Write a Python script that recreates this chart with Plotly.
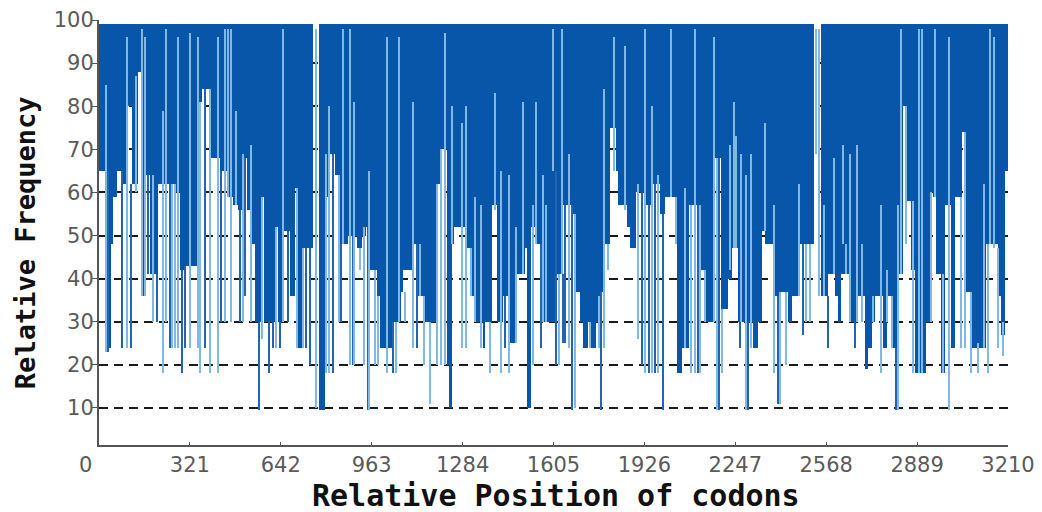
import plotly.graph_objects as go

# ---------------- data ----------------
TOTAL_CODONS = 3210
TOP_VALUE = 99

# lower edge of the solid band: segment start (codon) -> relative frequency
ENV_START = [0, 26, 42, 51, 62, 78, 86, 104, 116, 136, 148, 165, 180, 210, 270, 286, 304, 352, 363,
             392, 427, 451, 474, 492, 504, 521, 539, 551, 574, 583, 621, 633, 645, 674, 692, 704, 716, 757, 778,
             798, 810, 833, 851, 880, 910, 927, 942, 957, 980, 992, 1033, 1066, 1075, 1104, 1128, 1151, 1192,
             1204, 1228, 1236, 1245, 1253, 1298, 1310, 1333, 1355, 1363, 1387, 1404, 1428, 1451, 1469, 1504,
             1512, 1524, 1539, 1563,
             1610, 1619, 1639, 1675, 1686, 1698, 1710, 1728, 1739, 1754, 1769, 1781, 1804, 1824, 1834, 1863,
             1875, 1898, 1925, 1949, 1981, 1998,
             2040, 2057, 2084, 2122, 2145, 2175, 2198, 2222, 2234, 2257, 2308, 2328, 2340, 2352, 2387, 2410,
             2434, 2446, 2475, 2526, 2551, 2573, 2599, 2610, 2622, 2657, 2672, 2704, 2716, 2730, 2742, 2769,
             2781, 2805, 2817,
             2840, 2852, 2869, 2881, 2922, 2934, 2946, 2957, 2975, 2987, 3007, 3022, 3049, 3063, 3075, 3132,
             3175, 3187, 3199]
ENV_VALUE = [65, 24, 48, 59, 65, 24, 62, 80, 62, 88, 36, 64, 41, 62, 60, 42, 43, 81, 84,
             68, 65, 59, 57, 56, 68, 56, 48, 30, 59, 30, 52, 30, 51, 36, 61, 24, 47, 99, 9.5,
             59, 69, 64, 48, 50, 47, 50, 52, 42, 36, 24, 30, 37, 42, 48, 36, 30, 62,
             70, 20, 10, 48, 52, 47, 36, 30, 24, 30, 57, 30, 36, 25, 41, 47,
             10, 52, 48, 30,
             65, 41, 57, 55, 37, 30, 24, 30, 24, 30, 37, 48, 75, 65, 57, 52,
             47, 60, 57, 62, 55, 59,
             18, 24, 57, 42, 30, 68, 33, 40, 47, 30, 24, 30, 51, 48, 36, 37,
             30, 36, 48, 99, 36, 41, 36, 30, 41, 30, 36, 19, 24, 30, 36, 24,
             36, 24, 41,
             80, 58, 42, 18, 30, 60, 59, 41, 18, 57, 24, 59, 74, 37, 24, 48,
             36, 27, 65]

# thin light strokes: codon position, low value, high value
LIGHT_POS = [27, 98, 130, 151, 163, 192, 227, 239, 259, 268, 280, 321, 349, 357,
             394, 421, 445, 457, 468, 484, 510, 537, 578, 627, 650, 700, 721, 768,
             804, 814, 847, 862, 886, 902, 922, 937, 955, 974, 986, 1018, 1050, 1059, 1080, 1110, 1133, 1149, 1169, 1196,
             1210, 1222, 1248, 1283, 1296, 1316, 1328, 1350, 1380, 1398, 1422, 1448, 1474, 1498, 1533, 1545, 1569, 1580, 1604,
             1624, 1634, 1659, 1681, 1733, 1765, 1784, 1798, 1820, 1857, 1904, 1930, 1954, 1975,
             2022, 2037, 2069, 2092, 2104, 2122, 2140, 2172, 2183, 2202, 2228, 2242, 2251, 2269, 2287, 2302, 2351, 2383, 2404,
             2428, 2471, 2496, 2510, 2533, 2545, 2561, 2595, 2628, 2640, 2652, 2679, 2696, 2734, 2761, 2785, 2801, 2824,
             2834, 2849, 2875, 2896, 2908, 2940, 2952, 2981, 3002, 3043, 3058, 3081, 3105, 3125, 3140, 3146, 3160, 3175, 3193]
LIGHT_LOW = [23, 24, 60, 36, 36, 30, 18, 30, 24, 24, 24, 24, 24, 18,
             18, 18, 30, 59, 30, 57, 30, 30, 26, 24, 30, 24, 24, 10,
             18, 18, 30, 48, 20, 20, 42, 20, 9.5, 20, 20, 18, 18, 30, 30, 24, 36, 20, 11, 20,
             20, 20, 48, 24, 24, 36, 30, 24, 18, 56, 18, 18, 25, 41, 20, 48, 30, 30, 65,
             20, 41, 24, 10, 24, 24, 24, 42, 65, 56, 26, 18, 18, 18,
             59, 48, 24, 18, 18, 18, 30, 30, 9.5, 18, 42, 47, 47, 30, 9.5, 24, 51, 18, 11,
             20, 36, 30, 30, 69, 36, 36, 41, 48, 41, 30, 30, 30, 30, 18, 30, 24, 9.5,
             41, 48, 18, 18, 18, 30, 59, 18, 9.5, 24, 24, 18, 18, 24, 18, 48, 47, 24, 22]
LIGHT_HIGH = [85, 96, 87, 98, 96, 64, 79, 98, 62, 62, 96, 97, 96, 81,
              84, 96, 98, 98, 98, 79, 69, 71, 59, 52, 98, 61, 47, 98,
              69, 80, 64, 98, 98, 81, 47, 52, 65, 42, 36, 96, 30, 96, 37, 81, 48, 36, 30, 62,
              70, 97, 80, 76, 80, 47, 59, 57, 30, 83, 65, 64, 52, 81, 57, 81, 64, 57, 98,
              41, 98, 69, 55, 30, 36, 84, 48, 96, 94, 62, 98, 80, 64,
              98, 59, 61, 57, 98, 57, 42, 96, 68, 33, 71, 81, 73, 69, 64, 69, 76, 57, 37,
              37, 62, 48, 48, 98, 98, 57, 68, 71, 48, 69, 71, 48, 36, 57, 42, 36, 57,
              98, 80, 58, 98, 98, 60, 98, 41, 96, 59, 74, 37, 25, 62, 48, 98, 96, 47, 30]

# thin dark strokes reaching below the band: codon position, low value, high value
DARK_POS = [34, 82, 113, 174, 204, 251, 294, 304, 374,
            433, 498, 518, 564, 600, 616, 639, 669, 733, 745,
            827, 855, 898, 949, 1039, 1125,
            1434, 1561,
            1616, 1639, 1645, 1671, 1775, 1918, 1943, 1965, 1993,
            2116, 2189, 2263, 2293, 2398,
            2487, 2575, 2669, 2816]
DARK_LOW = [23, 24, 24, 41, 30, 24, 18, 24, 24,
            30, 30, 36, 9.5, 18, 24, 24, 30, 24, 20,
            18, 30, 20, 9.5, 18, 24,
            24, 24,
            20, 25, 25, 9.5, 9.5, 20, 18, 18, 9.5,
            18, 9.5, 24, 9.5, 11,
            27, 24, 24, 9.5]
DARK_HIGH = [65, 65, 62, 64, 41, 62, 42, 43, 84,
             65, 56, 68, 30, 30, 30, 30, 51, 47, 47,
             69, 48, 50, 52, 30, 48,
             36, 48,
             65, 41, 57, 57, 37, 60, 57, 62, 55,
             57, 68, 30, 30, 36,
             48, 36, 30, 24]

Y_TICKS = [10, 20, 30, 40, 50, 60, 70, 80, 90, 100]
X_TICKS = [321, 642, 963, 1284, 1605, 1926, 2247, 2568, 2889, 3210]

# ---------------- figure ----------------
BLUE = "#0756aa"
LIGHT = "#80b8e6"
DARK = "#2463ad"
STROKE_W = 5

env_end = ENV_START[1:] + [TOTAL_CODONS]
env_x = [(s + e) / 2 for s, e in zip(ENV_START, env_end)]
env_w = [e - s for s, e in zip(ENV_START, env_end)]
env_h = [TOP_VALUE - v for v in ENV_VALUE]

fig = go.Figure()
fig.add_trace(go.Bar(x=env_x, y=env_h, base=ENV_VALUE, width=env_w,
                     marker=dict(color=BLUE, line=dict(width=0)), hoverinfo="skip"))
fig.add_trace(go.Bar(x=DARK_POS, y=[h - l for l, h in zip(DARK_LOW, DARK_HIGH)], base=DARK_LOW,
                     width=STROKE_W, marker=dict(color=DARK, line=dict(width=0)), hoverinfo="skip"))
fig.add_trace(go.Bar(x=LIGHT_POS, y=[h - l for l, h in zip(LIGHT_LOW, LIGHT_HIGH)], base=LIGHT_LOW,
                     width=STROKE_W, marker=dict(color=LIGHT, line=dict(width=0)), hoverinfo="skip"))

tick_font = dict(family="DejaVu Sans", size=21, color="#5a5a5a")

# the page body has an 8px margin, so the figure is laid out 8px left/up of screen coordinates
fig.update_layout(
    width=1042, height=512,
    margin=dict(l=91, r=42, t=12, b=75, autoexpand=False),
    paper_bgcolor="white", plot_bgcolor="white",
    barmode="overlay", bargap=0, showlegend=False,
    xaxis=dict(range=[0, TOTAL_CODONS], tickvals=X_TICKS, ticktext=[str(t) for t in X_TICKS],
               showgrid=False, zeroline=False, showline=True, linecolor="#555555", linewidth=2,
               ticks="inside", ticklen=3, tickcolor="#555555", tickfont=tick_font,
               ticklabelstandoff=0, automargin=False),
    yaxis=dict(range=[1.4, 100], tickvals=Y_TICKS, ticktext=[str(t) for t in Y_TICKS],
               showgrid=True, gridcolor="#1a1a1a", gridwidth=2, griddash="9px,6px",
               zeroline=False, showline=True, linecolor="#555555", linewidth=2,
               ticks="outside", ticklen=5, tickcolor="#555555", tickfont=tick_font,
               ticklabelstandoff=-6, automargin=False),
)
fig.add_annotation(text="0", xref="paper", yref="paper", x=-0.015, y=0, yshift=-20,
                   showarrow=False, font=tick_font, xanchor="center", yanchor="middle")
fig.add_annotation(text="<b>Relative Position of codons</b>", xref="paper", yref="paper",
                   x=0.503, y=0, yshift=-50, showarrow=False, xanchor="center", yanchor="middle",
                   font=dict(family="DejaVu Sans Mono", size=30, color="#111111"))
fig.add_annotation(text="<b>Relative Frequency</b>", xref="paper", yref="paper",
                   x=-0.0814, y=0.475, textangle=-90, showarrow=False, xanchor="center", yanchor="middle",
                   font=dict(family="DejaVu Sans Mono", size=27, color="#111111"))

fig.write_html("out.html")
